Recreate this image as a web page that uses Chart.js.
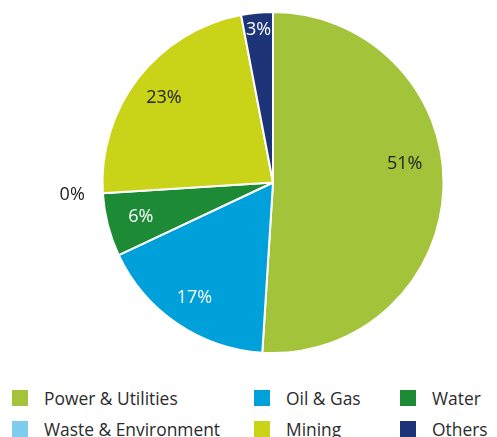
<!DOCTYPE html>
<html><head><meta charset="utf-8">
<script src="https://cdn.jsdelivr.net/npm/chart.js@4.4.0/dist/chart.umd.min.js"></script>
<style>
html,body{margin:0;padding:0;background:#fff;}
#wrap{position:relative;width:497px;height:437px;overflow:hidden;font-family:"Open Sans",sans-serif;}
#cv{position:absolute;left:0;top:0;}
#legend{position:absolute;left:12px;top:387px;display:grid;grid-template-columns:242px 146px 90px;row-gap:10px;}
.li{display:flex;align-items:center;font-size:17.4px;color:#2b2b2b;height:21px;white-space:nowrap;}
.sw{width:16px;height:16px;margin-right:16px;flex:none;}
</style></head>
<body><div id="wrap"><canvas id="cv" width="497" height="364"></canvas><div id="legend"></div></div>
<script>
const categories = ["Power & Utilities","Oil & Gas","Water","Waste & Environment","Mining","Others"];
const shares = [51,17,6,0,23,3];
const colors = ["#a3c43a","#00a1da","#1d8a35","#7fcdee","#c9d317","#1d3578"];
const labelColors = ["#222","#fff","#fff","#222","#222","#fff"];
const labelRadius = [0.78,0.82,0.8,1.18,0.81,0.9];
const labelAngleShift = [-10,0,0,0,0,0];

const labelPlugin = {
  id:'pctLabels',
  afterDatasetsDraw(chart){
    const ctx = chart.ctx;
    const meta = chart.getDatasetMeta(0);
    ctx.save();
    ctx.font = '18px "Open Sans", sans-serif';
    ctx.textAlign='center';ctx.textBaseline='middle';
    meta.data.forEach((arc,i)=>{
      const p = arc.getProps(['x','y','startAngle','endAngle','outerRadius'],true);
      const mid = (p.startAngle+p.endAngle)/2 + labelAngleShift[i]*Math.PI/180;
      const r = p.outerRadius*labelRadius[i];
      ctx.fillStyle = labelColors[i];
      ctx.fillText(shares[i]+'%', p.x+Math.cos(mid)*r, p.y+Math.sin(mid)*r);
    });
    ctx.restore();
  }
};

new Chart(document.getElementById('cv'),{
  type:'pie',
  data:{labels:categories,datasets:[{data:shares,backgroundColor:colors,borderColor:'#fff',borderWidth:2}]},
  options:{
    responsive:false,animation:false,
    layout:{padding:{left:100,right:51,top:11,bottom:10}},
    plugins:{legend:{display:false},tooltip:{enabled:false}}
  },
  plugins:[labelPlugin]
});

const lg = document.getElementById('legend');
categories.forEach((c,i)=>{
  const d=document.createElement('div');d.className='li';
  d.innerHTML='<span class="sw" style="background:'+colors[i]+'"></span><span></span>';
  d.lastChild.textContent=c;
  lg.appendChild(d);
});
</script></body></html>
